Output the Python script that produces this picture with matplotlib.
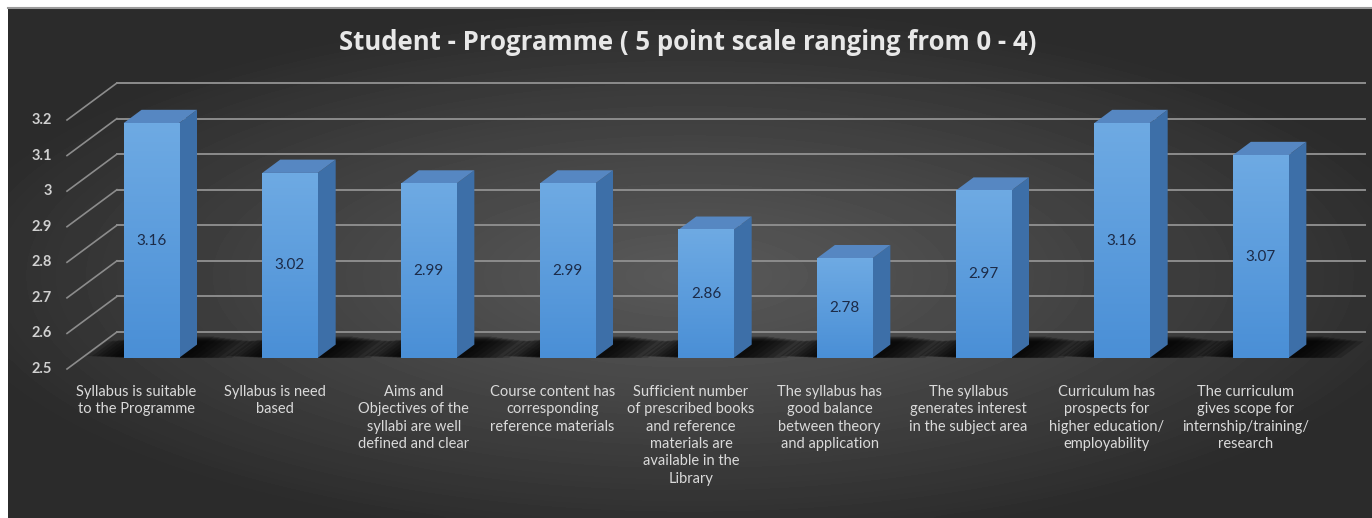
import numpy as np
import matplotlib
matplotlib.use("Agg")
import matplotlib.pyplot as plt
from matplotlib.patches import Polygon

# data
categories = [
    "Syllabus is suitable\nto the Programme",
    "Syllabus is need\nbased",
    "Aims and\nObjectives of the\nsyllabi are well\ndefined and clear",
    "Course content has\ncorresponding\nreference materials",
    "Sufficient number\nof prescribed books\nand reference\nmaterials are\navailable in the\nLibrary",
    "The syllabus has\ngood balance\nbetween theory\nand application",
    "The syllabus\ngenerates interest\nin the subject area",
    "Curriculum has\nprospects for\nhigher education/\nemployability",
    "The curriculum\ngives scope for\ninternship/training/\nresearch",
]
values = [3.16, 3.02, 2.99, 2.99, 2.86, 2.78, 2.97, 3.16, 3.07]
yticks = [2.5, 2.6, 2.7, 2.8, 2.9, 3.0, 3.1, 3.2]
ytick_labels = ["2.5", "2.6", "2.7", "2.8", "2.9", "3", "3.1", "3.2"]
title = "Student - Programme ( 5 point scale ranging from 0 - 4)"

W, H = 1372, 518
NARROW = ["Lato", "DejaVu Sans"]

# fake 3d depth offset (category units, value units)
DX, DY = 0.36, 0.104
F_FRONT, F_BACK = 0.30, 0.66
HALF = 0.2
BASE = 2.5


def P(x, v, d):
    return (x + d * DX, v + d * DY)


fig = plt.figure(figsize=(W / 100, H / 100), dpi=100, facecolor="white")

# dark panel with radial gradient
bg = fig.add_axes([8 / W, 0, (W - 8) / W, (H - 8) / H])
gx = np.linspace(-1, 1, 400)
gy = np.linspace(-1, 1, 160)
X, Y = np.meshgrid(gx, gy)
r = np.sqrt((X / 1.1) ** 2 + ((Y - 0.05) / 1.05) ** 2)
g = 0.17 + 0.18 * np.clip(1 - r, 0, 1) ** 0.9
bg.imshow(g, cmap="gray", vmin=0, vmax=1, aspect="auto", interpolation="bicubic")
bg.axis("off")
fig.add_artist(plt.Line2D([8 / W, 1], [(H - 8) / H] * 2, color="#9a9a9a", lw=1.5))

ax = fig.add_axes([67 / W, (H - 369) / H, 1248 / W, 249 / H])
ax.set_xlim(0, len(values))
ax.set_ylim(BASE, 3.2)
ax.axis("off")

# back wall gridlines and left wall diagonals
for v, lab in zip(yticks, ytick_labels):
    xs, ys = zip(P(0, v, 1), P(len(values), v, 1))
    ax.plot(xs, ys, color="#8c8c8c", lw=1.4, clip_on=False, zorder=1)
    xs, ys = zip(P(0, v, 0), P(0, v, 1))
    ax.plot(xs, ys, color="#8c8c8c", lw=1.2, clip_on=False, zorder=1)
    ax.text(-0.11, v, lab, ha="right", va="center", color="#d0d0d0",
            fontsize=10.5, fontweight="bold", family=NARROW)

# soft floor shadows around each bar
for i, v in enumerate(values):
    x0, x1 = i + 0.5 - HALF, i + 0.5 + HALF
    n = 8
    for k in range(n):
        s = 1 - k / n
        pts = [P(x0 - 0.28 * s, BASE, F_FRONT + 0.05 * s), P(x1 + 0.38 * s, BASE, F_FRONT),
               P(x1 + 0.38 * s, BASE, 0.9 - 0.15 * s), P(x0 - 0.28 * s, BASE, 0.9 - 0.15 * s)]
        ax.add_patch(Polygon(pts, closed=True, facecolor="black", edgecolor="none",
                             alpha=0.2, clip_on=False, zorder=2))

# bars
grad = np.linspace(0, 1, 100).reshape(-1, 1)
front_cmap = matplotlib.colors.LinearSegmentedColormap.from_list("bf", ["#4a8fd6", "#6eaae3"])
for i, v in enumerate(values):
    x0, x1 = i + 0.5 - HALF, i + 0.5 + HALF
    side = [P(x1, BASE, F_FRONT), P(x1, BASE, F_BACK), P(x1, v, F_BACK), P(x1, v, F_FRONT)]
    top = [P(x0, v, F_FRONT), P(x1, v, F_FRONT), P(x1, v, F_BACK), P(x0, v, F_BACK)]
    ax.add_patch(Polygon(side, closed=True, facecolor="#3d6fa8", edgecolor="none",
                         clip_on=False, zorder=3))
    ax.add_patch(Polygon(top, closed=True, facecolor="#5687c2", edgecolor="none",
                         clip_on=False, zorder=3))
    fx0, fy0 = P(x0, BASE, F_FRONT)
    fx1, fy1 = P(x1, v, F_FRONT)
    ax.imshow(grad, cmap=front_cmap, origin="lower", aspect="auto",
              extent=(fx0, fx1, fy0, fy1), clip_on=False, zorder=4)
    ax.text((fx0 + fx1) / 2, (fy0 + fy1) / 2, f"{v:.2f}", ha="center", va="center",
            color="#1c2b48", fontsize=11, family=NARROW, zorder=5)

ax.set_xlim(0, len(values))
ax.set_ylim(BASE, 3.2)

# category labels
for i, c in enumerate(categories):
    ax.text(i + 0.5, 2.455, c, ha="center", va="top", color="#dadada",
            fontsize=10.5, family=NARROW, linespacing=1.3, clip_on=False)

fig.text(688 / W, 1 - 43 / H, title, ha="center", va="center", color="#e8e8e8",
         fontsize=18.5, fontweight="bold", family=["Open Sans", "DejaVu Sans"])

fig.savefig("out.png", dpi=100, facecolor="white")
